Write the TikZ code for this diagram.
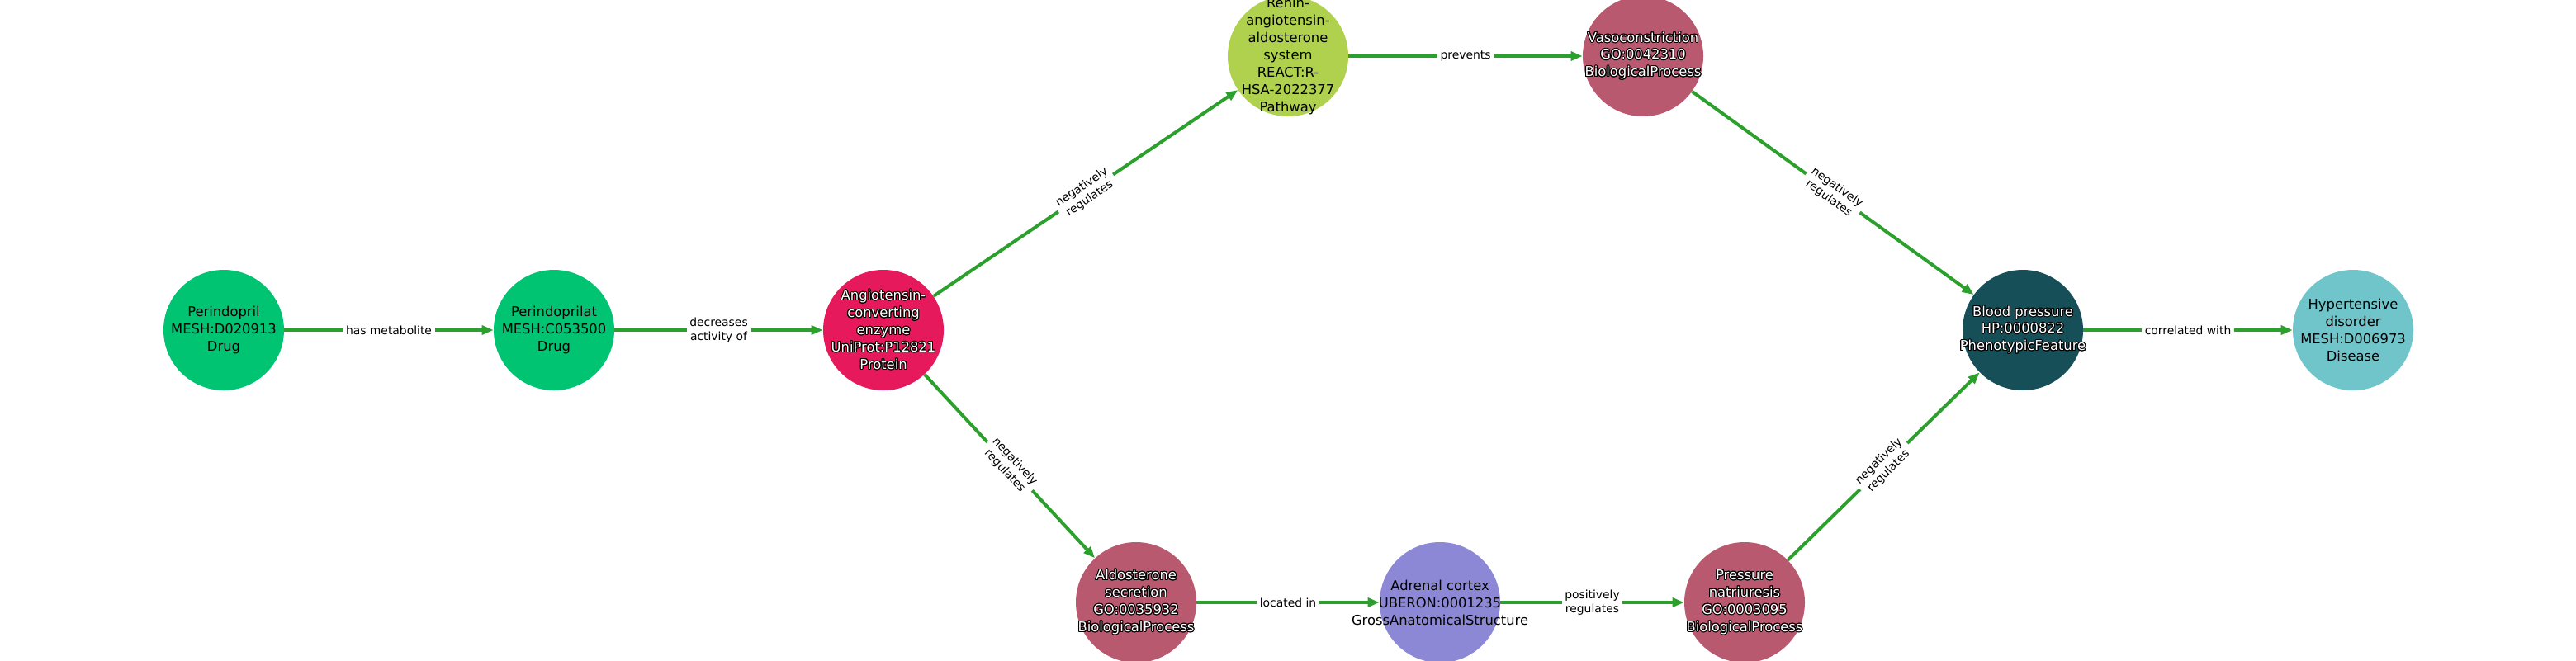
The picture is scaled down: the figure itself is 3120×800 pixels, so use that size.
\documentclass[tikz,border=0pt]{standalone}
\usepackage{fontspec}
\setmainfont{DejaVu Sans}
\usepackage{contour}
\contourlength{0.6pt}
\usetikzlibrary{arrows.meta}

\definecolor{drugc}{HTML}{00C472}
\definecolor{protc}{HTML}{E6195D}
\definecolor{pathc}{HTML}{AFD14D}
\definecolor{procc}{HTML}{B85970}
\definecolor{featc}{HTML}{174F58}
\definecolor{disc}{HTML}{70C5CA}
\definecolor{anatc}{HTML}{8C88D6}
\definecolor{edgec}{HTML}{2CA02C}

\newcommand{\wtxt}[1]{\textcolor{white}{\contour{black}{#1}}}

\begin{document}
\begin{tikzpicture}[x=0.2mm,y=-0.2mm,
  ent/.style={circle,minimum size=29.2mm,inner sep=0pt,
    label={[align=center,inner sep=0pt,font=\fontsize{9.3}{11.9}\selectfont]center:#1}},
  drug/.style={ent={#1},fill=drugc},
  protein/.style={ent={#1},fill=protc},
  pathway/.style={ent={#1},fill=pathc},
  process/.style={ent={#1},fill=procc},
  feature/.style={ent={#1},fill=featc},
  disease/.style={ent={#1},fill=disc},
  anat/.style={ent={#1},fill=anatc},
  rel/.style={draw=edgec,line width=0.8mm,-{Triangle[length=2.8mm,width=2.2mm]}},
  lbl/.style={fill=white,inner sep=2pt,align=center,text=black,font=\fontsize{7.9}{9.5}\selectfont}]
\useasboundingbox (0,0) rectangle (3120,800);
\node[drug={Perindopril\\MESH:D020913\\Drug}] (perind) at (271,400) {};
\node[drug={Perindoprilat\\MESH:C053500\\Drug}] (perindat) at (671,400) {};
\node[protein={\wtxt{Angiotensin-}\\\wtxt{converting}\\\wtxt{enzyme}\\\wtxt{UniProt:P12821}\\\wtxt{Protein}}] (ace) at (1070,400) {};
\node[pathway={Renin-\\angiotensin-\\aldosterone\\system\\REACT:R-\\HSA-2022377\\Pathway}] (raas) at (1560,68) {};
\node[process={\wtxt{Vasoconstriction}\\\wtxt{GO:0042310}\\\wtxt{BiologicalProcess}}] (vaso) at (1990,68) {};
\node[feature={\wtxt{Blood pressure}\\\wtxt{HP:0000822}\\\wtxt{PhenotypicFeature}}] (bp) at (2450,400) {};
\node[disease={Hypertensive\\disorder\\MESH:D006973\\Disease}] (hyper) at (2850,400) {};
\node[process={\wtxt{Aldosterone}\\\wtxt{secretion}\\\wtxt{GO:0035932}\\\wtxt{BiologicalProcess}}] (aldo) at (1376,730) {};
\node[anat={Adrenal cortex\\UBERON:0001235\\GrossAnatomicalStructure}] (adrenal) at (1744,730) {};
\node[process={\wtxt{Pressure}\\\wtxt{natriuresis}\\\wtxt{GO:0003095}\\\wtxt{BiologicalProcess}}] (natri) at (2113,730) {};

\draw[rel] (perind) -- node[lbl]{has metabolite} (perindat);
\draw[rel] (perindat) -- node[lbl]{decreases\\activity of} (ace);
\draw[rel] (ace) -- node[lbl,sloped]{negatively\\regulates} (raas);
\draw[rel] (ace) -- node[lbl,sloped]{negatively\\regulates} (aldo);
\draw[rel] (raas) -- node[lbl]{prevents} (vaso);
\draw[rel] (vaso) -- node[lbl,sloped]{negatively\\regulates} (bp);
\draw[rel] (aldo) -- node[lbl]{located in} (adrenal);
\draw[rel] (adrenal) -- node[lbl]{positively\\regulates} (natri);
\draw[rel] (natri) -- node[lbl,sloped]{negatively\\regulates} (bp);
\draw[rel] (bp) -- node[lbl]{correlated with} (hyper);
\end{tikzpicture}
\end{document}
